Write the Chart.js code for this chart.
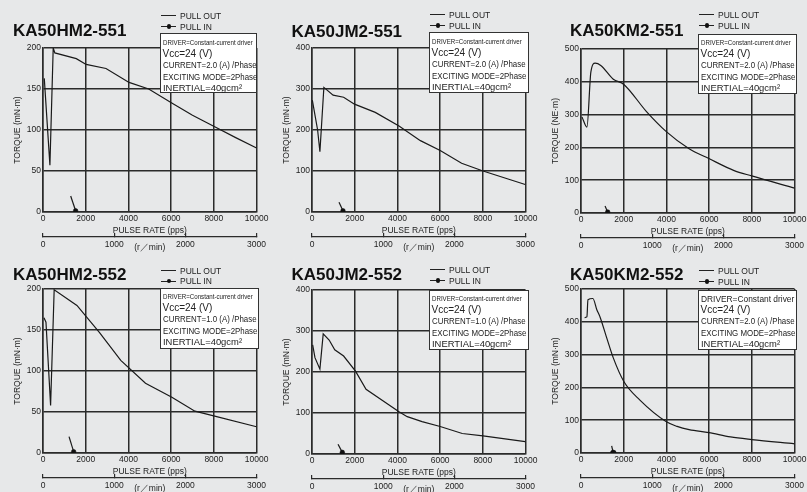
<!DOCTYPE html>
<html>
<head>
<meta charset="utf-8">
<script src="https://cdn.jsdelivr.net/npm/chart.js@4.4.1/dist/chart.umd.min.js"></script>
<style>
  html, body { margin: 0; padding: 0; }
  body {
    width: 807px; height: 492px; overflow: hidden; position: relative;
    background: #e7e8e9; color: #222;
    font-family: "Liberation Sans", Arial, sans-serif;
  }
  canvas { position: absolute; }
  .title { position: absolute; font-weight: bold; font-size: 17px; line-height: 20px; white-space: nowrap; color: #111; }
  .legend { position: absolute; width: 80px; height: 22px; font-size: 8.5px; line-height: 10px; white-space: nowrap; }
  .legend .ln { position: absolute; left: 0; width: 15px; height: 0; border-top: 1.2px solid #222; }
  .legend .dot { position: absolute; left: 5.5px; width: 4.5px; height: 4.5px; border-radius: 50%; background: #111; }
  .legend .tx { position: absolute; left: 19px; }
  .info { position: absolute; background: #fff; border: 1px solid #333; box-sizing: border-box; }
  .info div { position: absolute; left: 1.5px; white-space: nowrap; line-height: 10px; transform-origin: 0 50%; }
</style>
</head>
<body>
<script>
// tick labels
const pulseRateTicks = [0, 2000, 4000, 6000, 8000, 10000];
const rpmTicks = [0, 1000, 2000, 3000];
const hmTorqueTicks = [0, 50, 100, 150, 200];
const jmTorqueTicks = [0, 100, 200, 300, 400];
const kmTorqueTicks = [0, 100, 200, 300, 400, 500];

// KA50HM2-551
const hm551PullOutPps = [60, 324, 478, 555, 1560, 2020, 2950, 4030, 4950, 6030, 7000, 8040, 9000, 10000];
const hm551PullOutTorque = [163, 57, 200, 194, 187, 180, 175, 158, 150, 133, 118, 104, 91, 78];
const hm551PullInPps = [1296, 1528];
const hm551PullInTorque = [19.5, 1.5];

// KA50JM2-551
const jm551PullOutPps = [15, 263, 370, 556, 988, 1481, 1990, 2963, 4074, 5077, 6003, 7006, 8009, 9986];
const jm551PullOutTorque = [273, 200, 147, 304, 285, 280, 263, 243, 210, 174, 150, 119, 100, 67];
const jm551PullInPps = [1265, 1450];
const jm551PullInTorque = [24, 3];

// KA50KM2-551
const km551PullOutPps = [46, 278, 463, 662, 926, 1512, 2006, 3056, 3981, 5062, 5988, 7145, 7994, 10000];
const km551PullOutTorque = [293, 262, 430, 457, 450, 408, 392, 310, 249, 196, 166, 130, 113, 76];
const km551PullInPps = [1126, 1250];
const km551PullInTorque = [21, 3];

// KA50HM2-552
const hm552PullOutPps = [46, 139, 356, 523, 1589, 2639, 3642, 4799, 6034, 7114, 8040, 10000];
const hm552PullOutTorque = [165, 159.5, 58, 199, 180, 147, 113, 85, 68, 51, 45, 32];
const hm552PullInPps = [1219, 1435];
const hm552PullInTorque = [20, 1.6];

// KA50JM2-552
const jm552PullOutPps = [31, 139, 370, 525, 803, 1065, 1481, 2037, 2531, 4074, 4460, 5154, 6003, 7037, 8009, 9986];
const jm552PullOutTorque = [266, 235, 207, 293, 278, 254, 239, 202, 158, 103, 91, 79, 67, 50, 44, 30];
const jm552PullInPps = [1219, 1420];
const jm552PullInTorque = [24, 4];

// KA50KM2-552
const km552PullOutPps = [170, 278, 324, 556, 741, 895, 1204, 1512, 2006, 2747, 3981, 4500, 5062, 5988, 7000, 7994, 10000];
const km552PullOutTorque = [413, 415, 467, 471, 437, 414, 351, 290, 218, 162, 96, 81, 71, 62, 49, 41, 28];
const km552PullInPps = [1435, 1512];
const km552PullInTorque = [22, 0];

// driver notes
const info2A = ["DRIVER=Constant-current driver", "Vcc=24 (V)", "CURRENT=2.0 (A) /Phase", "EXCITING MODE=2Phase", "INERTIAL=40gcm²"];
const info1A = ["DRIVER=Constant-current driver", "Vcc=24 (V)", "CURRENT=1.0 (A) /Phase", "EXCITING MODE=2Phase", "INERTIAL=40gcm²"];
const infoConst = ["DRIVER=Constant driver", "Vcc=24 (V)", "CURRENT=2.0 (A) /Phase", "EXCITING MODE=2Phase", "INERTIAL=40gcm²"];

const panels = [
  { name: "KA50HM2-551", out: [hm551PullOutPps, hm551PullOutTorque], pin: [hm551PullInPps, hm551PullInTorque],
    yTicks: hmTorqueTicks, yLabel: "TORQUE (mN·m)", info: info2A, smooth: false, dot: 2.3,
    left: 43, top: 48, titleX: 13, titleY: 31, legendY: 16, box: [160, 33, 97, 60] },
  { name: "KA50JM2-551", out: [jm551PullOutPps, jm551PullOutTorque], pin: [jm551PullInPps, jm551PullInTorque],
    yTicks: jmTorqueTicks, yLabel: "TORQUE (mN·m)", info: info2A, smooth: false, dot: 2.3,
    left: 312, top: 48, titleX: 291.5, titleY: 32, legendY: 15, box: [429, 32, 99.5, 61] },
  { name: "KA50KM2-551", out: [km551PullOutPps, km551PullOutTorque], pin: [km551PullInPps, km551PullInTorque],
    yTicks: kmTorqueTicks, yLabel: "TORQUE (NE·m)", info: info2A, smooth: true, dot: 2.3,
    left: 581, top: 49, titleX: 570, titleY: 31, legendY: 15, box: [698, 33.5, 99, 60] },
  { name: "KA50HM2-552", out: [hm552PullOutPps, hm552PullOutTorque], pin: [hm552PullInPps, hm552PullInTorque],
    yTicks: hmTorqueTicks, yLabel: "TORQUE (mN·m)", info: info1A, smooth: false, dot: 2.3,
    left: 43, top: 289, titleX: 13, titleY: 275, legendY: 270.5, box: [160, 287.5, 99, 61] },
  { name: "KA50JM2-552", out: [jm552PullOutPps, jm552PullOutTorque], pin: [jm552PullInPps, jm552PullInTorque],
    yTicks: jmTorqueTicks, yLabel: "TORQUE (mN·m)", info: info1A, smooth: false, dot: 2.3,
    left: 312, top: 290, titleX: 291.5, titleY: 275, legendY: 270, box: [429, 289.5, 99.5, 60] },
  { name: "KA50KM2-552", out: [km552PullOutPps, km552PullOutTorque], pin: [km552PullInPps, km552PullInTorque],
    yTicks: kmTorqueTicks, yLabel: "TORQUE (mN·m)", info: infoConst, smooth: true, dot: 2.9,
    left: 581, top: 289, titleX: 570, titleY: 275, legendY: 271, box: [698, 289.5, 99, 60] }
];

const lineStyles = [
  { size: 7.5, sx: 0.82, c: 8.5 },
  { size: 10, sx: 1, c: 19.5 },
  { size: 9.5, sx: 0.83, c: 30.5 },
  { size: 9.5, sx: 0.83, c: 42.5 },
  { size: 9.8, sx: 0.96, c: 53.5 }
];

const ink = "#222";
const gridInk = "#2b2b2b";
const tickFont = { family: "Liberation Sans", size: 8.5 };

function fixedTicks(values) {
  return (scale) => { scale.ticks = values.map((v) => ({ value: v })); };
}

function addDiv(cls, css, html) {
  const el = document.createElement("div");
  el.className = cls;
  Object.assign(el.style, css);
  if (html !== undefined) el.innerHTML = html;
  document.body.appendChild(el);
  return el;
}

function buildPanel(p) {
  const canvas = document.createElement("canvas");
  canvas.width = 273;
  canvas.height = 218;
  canvas.style.left = (p.left - 43) + "px";
  canvas.style.top = (p.top - 10) + "px";
  document.body.appendChild(canvas);

  const yMax = p.yTicks[p.yTicks.length - 1];
  const toPoints = (xs, ys) => xs.map((x, i) => ({ x: x, y: ys[i] }));

  new Chart(canvas, {
    type: "line",
    data: {
      datasets: [
        {
          label: "PULL OUT",
          data: toPoints(p.out[0], p.out[1]),
          borderColor: "#1a1a1a",
          borderWidth: 1.2,
          pointRadius: 0,
          cubicInterpolationMode: p.smooth ? "monotone" : "default",
          tension: 0
        },
        {
          label: "PULL IN",
          data: toPoints(p.pin[0], p.pin[1]),
          borderColor: "#1a1a1a",
          borderWidth: 1.2,
          pointRadius: [0, p.dot],
          pointBackgroundColor: "#111",
          pointBorderColor: "#111",
          pointBorderWidth: 0.5
        }
      ]
    },
    options: {
      responsive: false,
      animation: false,
      layout: { padding: { top: 10, right: 14, bottom: 2, left: 0 } },
      plugins: { legend: { display: false }, tooltip: { enabled: false } },
      scales: {
        x: {
          type: "linear", position: "bottom", weight: 0, min: 0, max: 10000,
          afterBuildTicks: fixedTicks(pulseRateTicks),
          afterFit: (s) => { s.height = 25; },
          ticks: { font: tickFont, color: ink, padding: 1.5, maxRotation: 0, autoSkip: false, callback: (v) => String(v) },
          grid: { color: gridInk, lineWidth: 1.5, drawTicks: false },
          border: { color: gridInk, width: 1.5 },
          title: { display: true, text: "PULSE RATE (pps)", font: tickFont, color: ink, padding: { top: 0, bottom: 1.5 } }
        },
        x2: {
          type: "linear", position: "bottom", weight: 1, min: 0, max: 3000,
          afterBuildTicks: fixedTicks(rpmTicks),
          afterFit: (s) => { s.height = 17; },
          ticks: { font: tickFont, color: ink, padding: 7, maxRotation: 0, autoSkip: false, callback: (v) => String(v) },
          grid: { drawOnChartArea: false, drawTicks: true, tickLength: -4, color: gridInk, lineWidth: 1.2 },
          border: { color: gridInk, width: 1.2 },
          title: { display: true, text: "(r／min)", font: tickFont, color: ink, padding: { top: 0, bottom: 1.5 } }
        },
        y: {
          type: "linear", position: "left", min: 0, max: yMax,
          afterBuildTicks: fixedTicks(p.yTicks),
          afterFit: (s) => { s.width = 43; },
          ticks: { font: tickFont, color: ink, padding: 2, autoSkip: false, callback: (v) => String(v) },
          grid: { color: gridInk, lineWidth: 1.5, drawTicks: false },
          border: { color: gridInk, width: 1.5 },
          title: { display: true, text: p.yLabel, font: tickFont, color: ink, padding: { top: 13, bottom: 0 } }
        }
      }
    }
  });

  addDiv("title", { left: p.titleX + "px", top: (p.titleY - 10) + "px" }, p.name);

  const lg = addDiv("legend", { left: (p.left + 118) + "px", top: (p.legendY - 5) + "px" });
  lg.innerHTML =
    '<div class="ln" style="top:4.4px"></div><div class="tx" style="top:0">PULL OUT</div>' +
    '<div class="ln" style="top:15px"></div><div class="dot" style="top:13.2px"></div>' +
    '<div class="tx" style="top:10.6px">PULL IN</div>';

  const [bx, by, bw, bh] = p.box;
  const box = addDiv("info", { left: bx + "px", top: by + "px", width: bw + "px", height: bh + "px" });
  p.info.forEach((text, i) => {
    let st = lineStyles[i];
    if (i === 0 && text === "DRIVER=Constant driver") st = { size: 9, sx: 0.93, c: st.c };
    const line = document.createElement("div");
    line.textContent = text;
    line.style.fontSize = st.size + "px";
    line.style.top = (st.c - 5) + "px";
    line.style.transform = "scaleX(" + st.sx + ")";
    box.appendChild(line);
  });
}

panels.forEach(buildPanel);
</script>
</body>
</html>
